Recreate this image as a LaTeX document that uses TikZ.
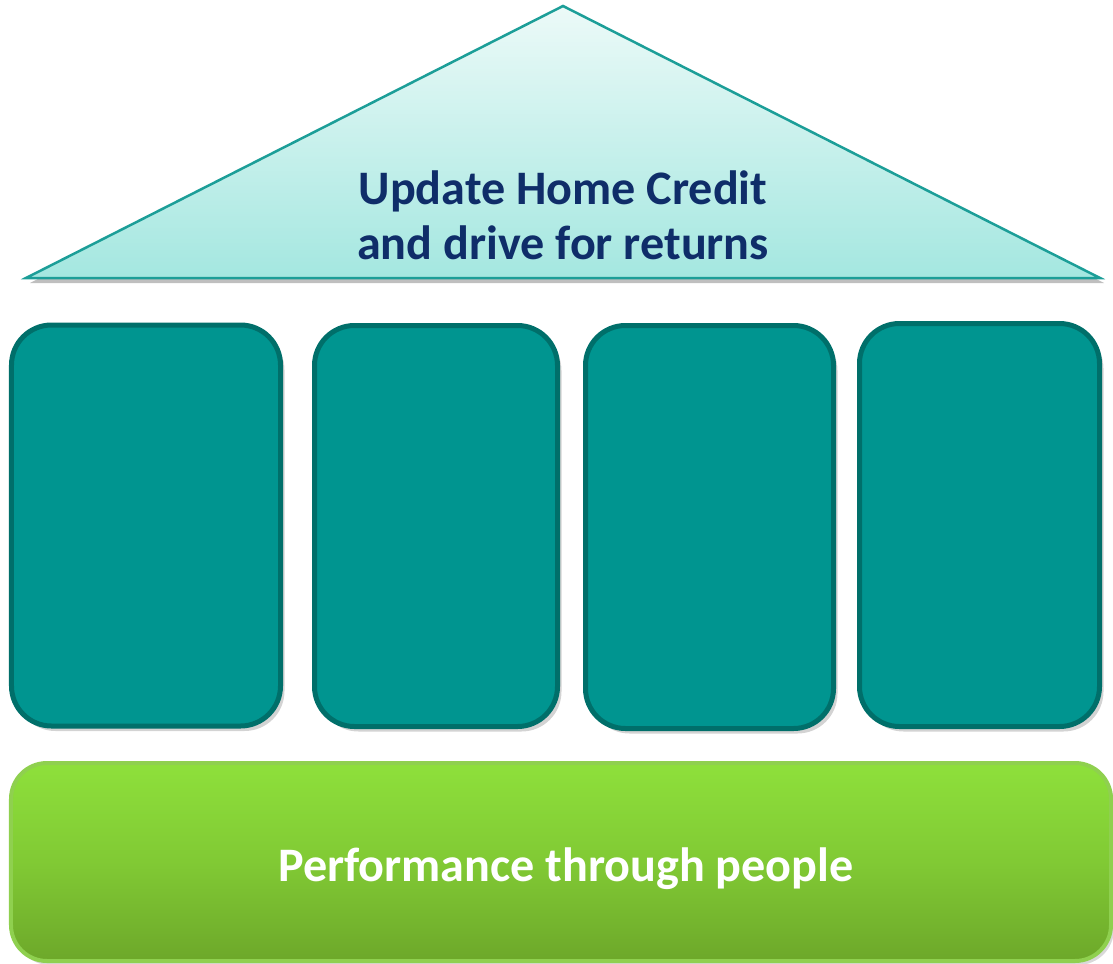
\documentclass[tikz,border=0pt]{standalone}
\usepackage{fontspec}
\setmainfont{Carlito}
\usetikzlibrary{shadows}
\definecolor{roofline}{HTML}{1C9E98}
\definecolor{rooftop}{HTML}{ECFAF8}
\definecolor{roofbot}{HTML}{A4E7E0}
\definecolor{pillarfill}{HTML}{009590}
\definecolor{pillarline}{HTML}{006F6A}
\definecolor{basetop}{HTML}{8EE03B}
\definecolor{basebot}{HTML}{6DA82A}
\definecolor{baseline}{HTML}{8FD04F}
\definecolor{rooftext}{HTML}{0F2D69}
\tikzset{
  pillar/.style={draw=pillarline, line width=5bp, fill=pillarfill, rounded corners=40bp,
    drop shadow={opacity=0.35, shadow xshift=4bp, shadow yshift=-5bp}},
  basebox/.style={draw=baseline, line width=4bp, rounded corners=36bp,
    top color=basetop, bottom color=basebot, middle color=basetop!60!basebot,
    drop shadow={opacity=0.3, shadow xshift=3bp, shadow yshift=-4bp}},
  label/.style={font=\bfseries\fontsize{48.3}{55}\selectfont, align=center}
}
\begin{document}
\begin{tikzpicture}[x=1bp,y=-1bp]
\useasboundingbox (0,0) rectangle (1113,964);
% roof
\coordinate (rl) at (26,278);
\coordinate (rt) at (563,6);
\coordinate (rr) at (1100,278);
\fill[black, opacity=0.25] ([shift={(4,5)}]rl) -- ([shift={(4,5)}]rt) -- ([shift={(4,5)}]rr) -- cycle;
\shade[top color=rooftop, bottom color=roofbot] (rl) -- (rt) -- (rr) -- cycle;
\draw[roofline, line width=2.5bp, line join=miter] (rl) -- (rt) -- (rr) -- cycle;
\node[label, text=rooftext] (roof) at (563,215) {Update Home Credit\\and drive for returns};
% pillars
\node[pillar, minimum width=269bp, minimum height=401bp] (p1) at (146,525.5) {};
\node[pillar, minimum width=243bp, minimum height=401bp] (p2) at (436,526) {};
\node[pillar, minimum width=248bp, minimum height=403bp] (p3) at (709.5,527) {};
\node[pillar, minimum width=240bp, minimum height=403bp] (p4) at (979.5,525) {};
% base
\node[basebox, minimum width=1100bp, minimum height=198bp] (base) at (561,862) {};
\node[label, text=white] (basetext) at (566,869) {Performance through people};
\end{tikzpicture}
\end{document}
